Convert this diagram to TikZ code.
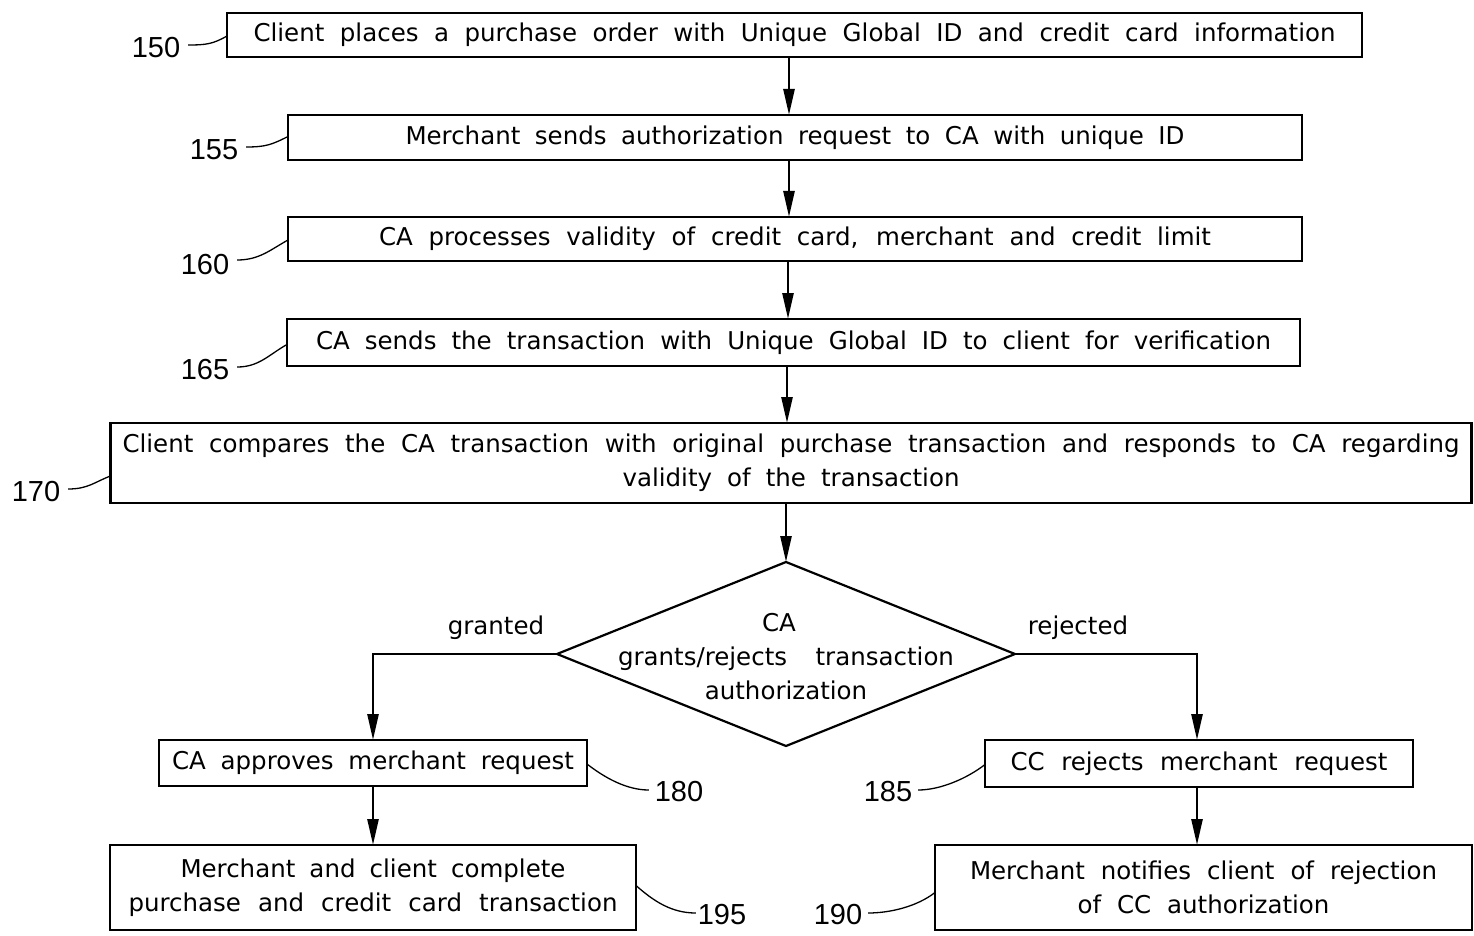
\documentclass[tikz,border=0pt]{standalone}
\usepackage{fontspec}
\setmainfont{DejaVu Sans}
\newfontfamily\numfont{Liberation Sans}
\usetikzlibrary{arrows.meta,shapes.geometric,calc}

% a line of text whose inter-word spaces are stretched to a given width
\newcommand{\wline}[2]{\makebox[#1pt][s]{#2}}

\begin{document}
\begin{tikzpicture}[x=1pt,y=1pt,
  every node/.style={inner sep=0pt,outer sep=0pt},
  txt/.style={font=\fontsize{24.5}{34}\selectfont},
  stepbox/.style={draw,line width=2.2pt,rectangle,align=center,txt},
  decision/.style={draw,line width=2.2pt,diamond},
  refnum/.style={font=\numfont\fontsize{29}{30}\selectfont},
  arr/.style={line width=2.6pt,-{Triangle[length=26pt,width=11pt]}},
  leader/.style={line width=1.3pt}]

\useasboundingbox (0,0) rectangle (1474,-936);

% process steps
\node[stepbox,minimum width=1135pt,minimum height=44pt] (b150) at (794.5,-35)
  {\wline{1082}{Client places a purchase order with Unique Global ID and credit card information}};
\node[stepbox,minimum width=1014pt,minimum height=45pt] (b155) at (795,-137.5)
  {\wline{779}{Merchant sends authorization request to CA with unique ID}};
\node[stepbox,minimum width=1014pt,minimum height=44pt] (b160) at (795,-239)
  {\wline{832}{CA processes validity of credit card, merchant and credit limit}};
\node[stepbox,minimum width=1013pt,minimum height=47pt] (b165) at (793.5,-342.5)
  {\wline{955}{CA sends the transaction with Unique Global ID to client for verification}};
\node[stepbox,minimum width=1361pt,minimum height=80pt] (b170) at (791,-463)
  {\wline{1337}{Client compares the CA transaction with original purchase transaction and responds to CA regarding}\\
   \wline{337}{validity of the transaction}};

% decision
\node[decision,minimum width=458pt,minimum height=184pt] (dia) at (786,-654) {};
\node[txt,align=center] (diatext) at (786,-657)
  {\hspace*{-14pt}CA\\ \wline{336}{grants/rejects transaction}\\ authorization};

% outcomes
\node[stepbox,minimum width=428pt,minimum height=46pt] (b180) at (373,-763)
  {\wline{402}{CA approves merchant request}};
\node[stepbox,minimum width=428pt,minimum height=47pt] (b185) at (1199,-763.5)
  {\wline{377}{CC rejects merchant request}};
\node[stepbox,minimum width=526pt,minimum height=85pt] (b195) at (373,-887.5)
  {\wline{385}{Merchant and client complete}\\ \wline{489}{purchase and credit card transaction}};
\node[stepbox,minimum width=537pt,minimum height=85pt] (b190) at (1203.5,-887.5)
  {\wline{467}{Merchant notifies client of rejection}\\ \wline{252}{of CC authorization}};

% branch labels
\node[txt] (lgr) at (496,-628) {granted};
\node[txt] (lrj) at (1078,-628) {rejected};

% arrow columns
\coordinate (c1) at (789,0);
\coordinate (c2) at (788,0);
\coordinate (c3) at (787,0);
\coordinate (c4) at (786,0);
\coordinate (cl) at (373,0);
\coordinate (cr) at (1197,0);

\draw[arr] (b150.south -| c1) -- (b155.north -| c1);
\draw[arr] (b155.south -| c1) -- (b160.north -| c1);
\draw[arr] (b160.south -| c2) -- (b165.north -| c2);
\draw[arr] (b165.south -| c3) -- (b170.north -| c3);
\draw[arr] (b170.south -| c4) -- (dia.north);
\draw[arr] (dia.west) -| (b180.north -| cl);
\draw[arr] (dia.east) -| (b185.north -| cr);
\draw[arr] (b180.south -| cl) -- (b195.north -| cl);
\draw[arr] (b185.south -| cr) -- (b190.north -| cr);

% reference numerals
\node[refnum] (n150) at (156,-48) {150};
\node[refnum] (n155) at (214,-150) {155};
\node[refnum] (n160) at (205,-265) {160};
\node[refnum] (n165) at (205,-370) {165};
\node[refnum] (n170) at (36,-492) {170};
\node[refnum] (n180) at (679,-792) {180};
\node[refnum] (n185) at (888,-792) {185};
\node[refnum] (n195) at (722,-915) {195};
\node[refnum] (n190) at (838,-915) {190};

% leader lines
\draw[leader] ([xshift=8pt,yshift=3pt]n150.east) .. controls +(18,0) and +(-14,-8) .. ([yshift=-1pt]b150.west);
\draw[leader] ([xshift=8pt,yshift=3pt]n155.east) .. controls +(20,0) and +(-16,-8) .. ([yshift=1pt]b155.west);
\draw[leader] ([xshift=8pt,yshift=5pt]n160.east) .. controls +(22,0) and +(-18,-10) .. ([yshift=-1pt]b160.west);
\draw[leader] ([xshift=8pt,yshift=3pt]n165.east) .. controls +(22,0) and +(-18,-10) .. ([yshift=-2pt]b165.west);
\draw[leader] ([xshift=8pt,yshift=3pt]n170.east) .. controls +(20,0) and +(-16,-6) .. ([yshift=-13pt]b170.west);
\draw[leader] ([yshift=-1pt]b180.east) .. controls +(18,-14) and +(-22,0) .. ([xshift=-6pt,yshift=2pt]n180.west);
\draw[leader] ([xshift=6pt,yshift=2pt]n185.east) .. controls +(22,0) and +(-18,-14) .. ([yshift=-1pt]b185.west);
\draw[leader] ([yshift=2pt]b195.east) .. controls +(18,-16) and +(-24,0) .. ([xshift=-2pt,yshift=2pt]n195.west);
\draw[leader] ([xshift=6pt,yshift=2pt]n190.east) .. controls +(22,0) and +(-18,-14) .. ([yshift=-5pt]b190.west);
\end{tikzpicture}
\end{document}
